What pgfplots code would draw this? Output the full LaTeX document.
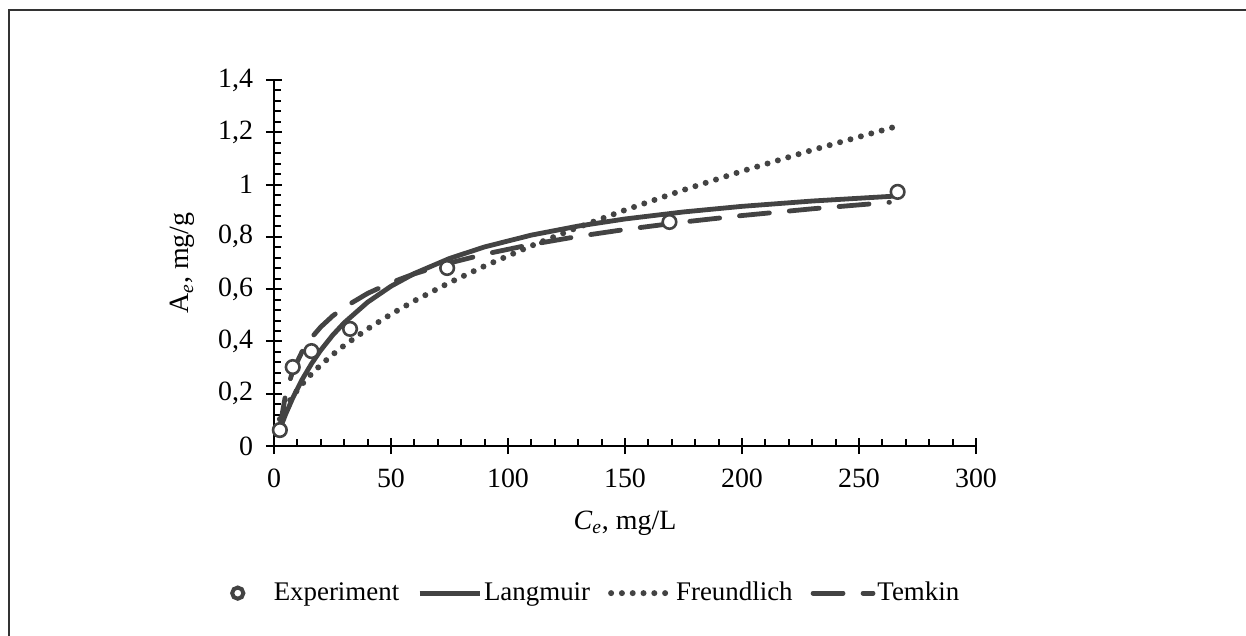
\documentclass[border=0pt]{standalone}
\usepackage{pgfplots}
\pgfplotsset{compat=1.18}
\usepackage{fontspec}
\setmainfont{Liberation Serif}
\definecolor{cg}{RGB}{67,67,67}
\pgfplotsset{
  lineleg/.style={legend image code/.code={\draw[##1] (0bp,0bp) -- (30bp,0bp);}},
  expmark/.style={only marks, mark=*, mark size=3.4bp, mark options={fill=white, draw=cg, line width=1.3bp}},
}
\begin{document}
\begin{tikzpicture}
\useasboundingbox (-137bp,-95bp) rectangle (486bp,223bp);
\draw[line width=0.6bp, black!80] (-132.5bp,-95bp) -- (-132.5bp,218bp) -- (486bp,218bp);
\begin{axis}[
  at={(0,0)}, anchor=origin,
  scale only axis, width=351bp, height=183bp,
  xmin=0, xmax=300, ymin=0, ymax=1.4,
  axis x line=bottom, axis y line=left,
  axis line style={line width=1bp, -},
  xtick={0,50,...,300}, ytick={0,0.2,...,1.4},
  minor x tick num=4, minor y tick num=4,
  tick align=inside,
  major tick length=8bp, minor tick length=3.5bp,
  tick style={line width=1bp, black},
  major x tick style={yshift=-4bp},
  major y tick style={xshift=-4bp},
  /pgf/number format/assume math mode=true,
  /pgf/number format/use comma,
  ticklabel style={font=\fontsize{14}{16}\selectfont},
  xticklabel style={yshift=-8bp},
  yticklabel style={xshift=-7bp},
  xlabel={\textit{C\textsubscript{e}}, mg/L},
  ylabel={A\textsubscript{\textit{e}}, mg/g},
  label style={font=\fontsize{14}{16}\selectfont},
  xlabel style={at={(axis description cs:0.5,-0.21)}, anchor=center},
  ylabel style={at={(axis description cs:-0.13,0.5)}, anchor=center},
  legend columns=4,
  legend style={draw=none, fill=none, at={(axis description cs:0.458,-0.402)}, anchor=center,
    font=\fontsize{13.5}{15}\selectfont, nodes={inner xsep=1bp},
    /tikz/every even column/.append style={column sep=8bp}},
  clip=false,
]
\addlegendimage{draw=none, legend image code/.code={\path[draw=none] (-4bp,0bp) -- (17bp,0bp); \path[draw=cg, line width=2bp, fill=white] (0bp,0bp) circle (2.8bp);}}
\addlegendentry{Experiment}
\addplot[cg, line width=2.4bp, line join=round, lineleg] coordinates {
(2.5,0.0647) (5,0.1222) (8,0.1833) (12,0.2538) (16,0.3143) (20,0.3667) (25,0.4231) (30,0.4714) (40,0.55) (50,0.6111) (60,0.66) (75,0.7174) (90,0.7615) (110,0.8067) (130,0.8412) (150,0.8684) (175,0.8953) (200,0.9167) (230,0.937) (265,0.9557)};
\addlegendentry{Langmuir}
\addplot[cg, line width=3bp, line cap=round, dash pattern=on 0bp off 5.4bp, lineleg] coordinates {
(2.5,0.103) (5,0.1488) (8,0.1909) (12,0.2366) (16,0.2756) (20,0.3102) (25,0.3492) (30,0.3846) (40,0.4479) (50,0.5041) (60,0.5553) (75,0.625) (90,0.6884) (110,0.7658) (130,0.8366) (150,0.9024) (175,0.9793) (200,1.0512) (230,1.132) (265,1.2201)};
\addlegendentry{Freundlich}
\addplot[cg, line width=2.4bp, line cap=round, dash pattern=on 15bp off 10bp, lineleg] coordinates {
(2.5,0.0708) (5,0.199) (8,0.286) (12,0.361) (16,0.4142) (20,0.4555) (25,0.4968) (30,0.5305) (40,0.5837) (50,0.625) (60,0.6587) (75,0.7) (90,0.7337) (110,0.7709) (130,0.8018) (150,0.8282) (175,0.8568) (200,0.8815) (230,0.9073) (263,0.9321)};
\addlegendentry{Temkin}
\addplot[expmark, forget plot] coordinates {
(2.5,0.061) (8,0.302) (16,0.363) (32.5,0.448) (74,0.681) (169,0.857) (266.5,0.972)};
\end{axis}
\end{tikzpicture}
\end{document}
